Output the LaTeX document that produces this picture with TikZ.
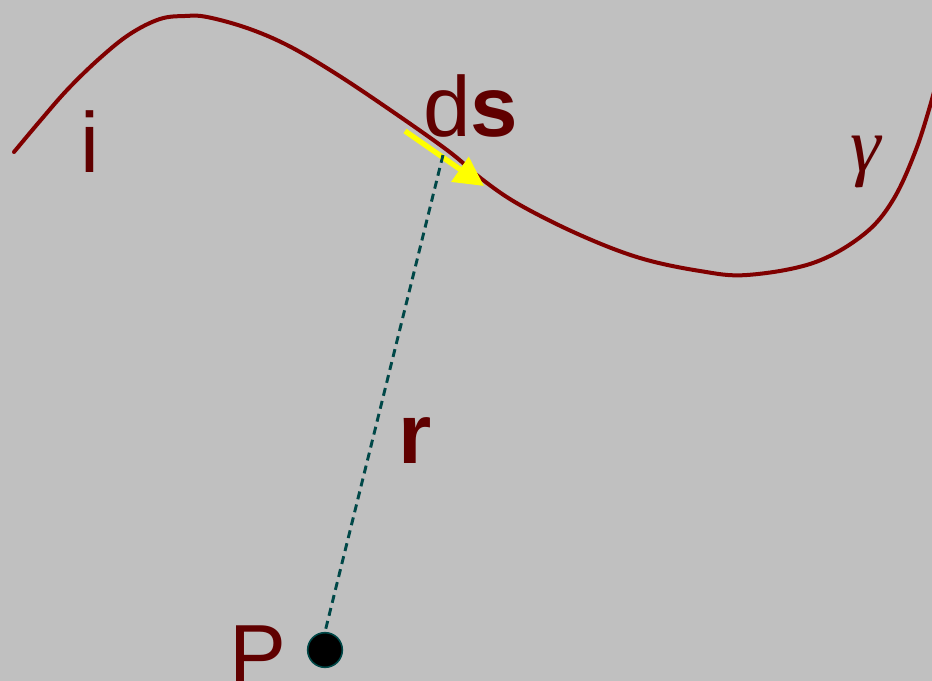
\documentclass[tikz,border=0pt]{standalone}
\usepackage{fontspec}
\setmainfont{Liberation Sans}
\newfontfamily\greekit{Liberation Serif}
\usetikzlibrary{arrows.meta}
\definecolor{bg}{HTML}{C0C0C0}
\definecolor{curvec}{HTML}{800000}
\definecolor{textc}{HTML}{600000}
\definecolor{tealc}{HTML}{004848}
\definecolor{yel}{HTML}{FFFF00}
\tikzset{
  lbl/.style={text=textc, inner sep=0pt, anchor=base west, font=\fontsize{64}{70}\selectfont},
  curveline/.style={draw=curvec, line width=3pt, line cap=round},
  rline/.style={draw=tealc, line width=2.2pt, dash pattern=on 6pt off 4pt},
}
\begin{document}
\begin{tikzpicture}[x=0.75pt,y=-0.75pt]
\fill[bg] (0,0) rectangle (932,681);
\useasboundingbox (0,0) rectangle (932,681);
\begin{scope}
\clip (0,0) rectangle (932,681);
\draw[curveline] plot[smooth, tension=0.6] coordinates {
(14,152) (40,121) (68,89) (100,58) (130,34) (160,19) (185,16) (207,17) (247,28) (287,45) (330,70) (380,103) (447,150) (483,180) (520,205) (580,235) (640,258) (700,271) (747,275) (813,263) (863,235) (893,200) (917,147) (934,92)};
\end{scope}
\coordinate (dsA) at (405,131);
\coordinate (dsB) at (484,186);
\draw[yel, line width=4pt, -{Triangle[length=22pt,width=22pt]}] (dsA) -- (dsB);
\node[circle, fill=black, draw=tealc, line width=1.2pt, minimum size=26pt, inner sep=0pt] (P) at (325,650) {};
\coordinate (rtop) at (443,155);
\draw[rline] (rtop) -- (P.north);
\node[lbl] (i) at (80,173) {i};
\node[lbl] (ds) at (423,137) {d\textbf{s}};
\node[lbl] (r) at (398,463) {\textbf{r}};
\node[lbl] (Plbl) at (229,684) {P};
\node[text=textc, inner sep=0pt, font=\greekit\itshape\fontsize{58}{60}\selectfont] (gamma) at (866,162) {γ};
\end{tikzpicture}
\end{document}
